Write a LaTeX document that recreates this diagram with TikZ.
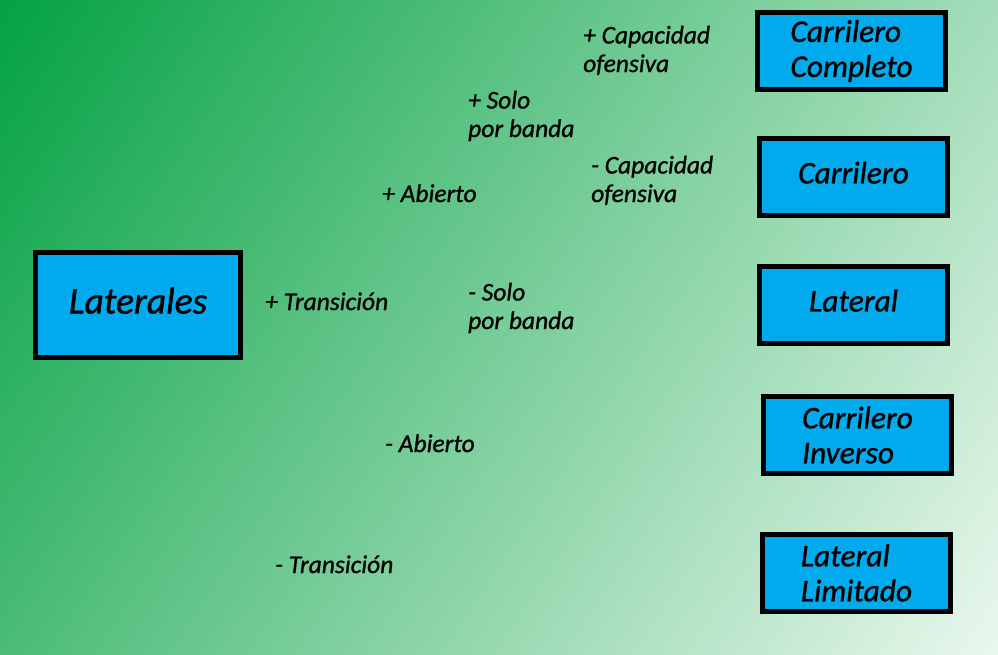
\documentclass[tikz,border=0pt]{standalone}
\usepackage{fontspec}
\setmainfont{Carlito}[FakeBold=1]
\usepackage{tikz}
\definecolor{cajazul}{RGB}{0,170,236}
\definecolor{verdeA}{RGB}{0,160,64}
\definecolor{verdeB}{RGB}{104,197,140}
\definecolor{verdeC}{RGB}{238,249,241}

\begin{document}
\begin{tikzpicture}[x=1pt, y=-1pt,
  caja/.style={draw=black, line width=5pt, fill=cajazul, minimum width=188pt, minimum height=77pt,
    inner sep=0pt, align=left, font=\fontsize{31.5}{35}\selectfont\itshape},
  uno/.style={text depth=9pt},
  etiq/.style={anchor=base west, inner sep=0pt, align=left, font=\fontsize{25.5}{28.5}\selectfont\itshape}]
  \useasboundingbox (0,0) rectangle (998,654);
  \begin{scope}
    \clip (0,0) rectangle (998,654);
    \begin{scope}[transform canvas={rotate around={-34:(0,0)}}]
      \shade[left color=verdeA, middle color=verdeB, right color=verdeC] (-20,-580) rectangle (1215,560);
    \end{scope}
  \end{scope}

  \node[caja, uno, minimum width=205pt, minimum height=105pt, font=\fontsize{37.5}{40}\selectfont\itshape] (laterales) at (138,305) {Laterales};
  \node[caja] (completo) at (851.5,51) {Carrilero\\Completo};
  \node[caja, uno] (carrilero) at (853.5,177) {Carrilero};
  \node[caja, uno] (lateral) at (853.5,305) {Lateral};
  \node[caja] (inverso) at (857.5,435) {Carrilero\\Inverso};
  \node[caja] (limitado) at (856.5,573) {Lateral\\Limitado};

  \node[etiq] (mascap) at (583,72) {+ Capacidad\\ofensiva};
  \node[etiq] (massolo) at (468,137) {+ Solo\\por banda};
  \node[etiq] (menoscap) at (591,202) {- Capacidad\\ofensiva};
  \node[etiq] (masab) at (382,202) {+ Abierto};
  \node[etiq] (mastra) at (265,310) {+ Transición};
  \node[etiq] (menossolo) at (468,329) {- Solo\\por banda};
  \node[etiq] (menosab) at (385,452) {- Abierto};
  \node[etiq] (menostra) at (275,573) {- Transición};
\end{tikzpicture}
\end{document}
